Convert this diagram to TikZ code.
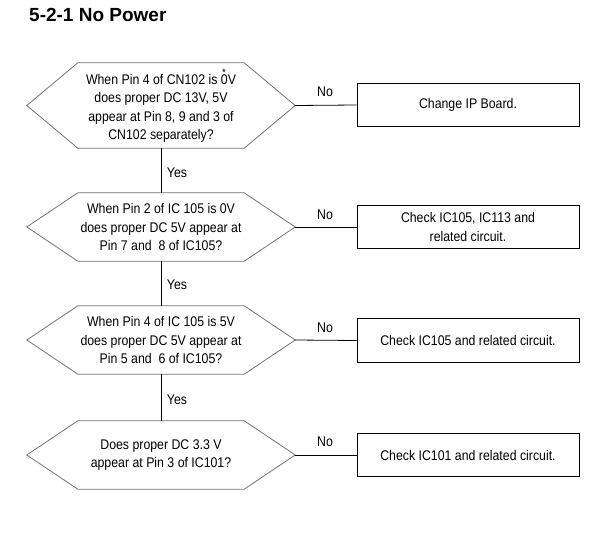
\documentclass[tikz,border=0pt]{standalone}
\usepackage{fontspec}
\setmainfont{Liberation Sans}[FakeStretch=0.88]
\newfontfamily\titlefont{Liberation Sans}[FakeStretch=1.0]
\usetikzlibrary{calc}
\newcommand\astzero{\rlap{\raisebox{8pt}{\kern0.08em\fontsize{11}{11}\selectfont *}}0}
\begin{document}
\begin{tikzpicture}[x=1pt,y=-1pt,
  hexnode/.style={minimum width=268pt, minimum height=#1, inner sep=0pt, align=center,
    font=\fontsize{14}{18.5}\selectfont},
  boxnode/.style={draw, line width=0.8pt, minimum width=222pt, minimum height=43.5pt, inner sep=0pt,
    align=center, font=\fontsize{14}{18.5}\selectfont},
  hexline/.style={draw=black!55, line width=0.8pt},
  conn/.style={draw, line width=0.8pt},
  lbl/.style={font=\fontsize{14}{16}\selectfont, inner sep=0pt}
]
\useasboundingbox (0,0) rectangle (610,548);
\fill[white] (0,0) rectangle (610,548);

\node[anchor=base west, inner sep=0pt, font=\titlefont\bfseries\fontsize{19}{22}\selectfont] (title) at (29,22) {5-2-1 No Power};

% hexagons
\node[hexnode=85pt] (h1) at (161,105.5) {When Pin 4 of CN102 is \astzero V\\does proper DC 13V, 5V\\appear at Pin 8, 9 and 3 of\\CN102 separately?};
\node[hexnode=68pt] (h2) at (161,227) {When Pin 2 of IC 105 is 0V\\does proper DC 5V appear at\\Pin 7 and~ 8 of IC105?};
\node[hexnode=68pt] (h3) at (161,340) {When Pin 4 of IC 105 is 5V\\does proper DC 5V appear at\\Pin 5 and~ 6 of IC105?};
\node[hexnode=68pt] (h4) at (161,455) {Does proper DC 3.3 V\\appear at Pin 3 of IC101?};

\foreach \h in {h1,h2,h3,h4}{
  \draw[hexline] ($(\h.north west)+(51,0)$) -- ($(\h.north east)+(-51,0)$) -- (\h.east)
    -- ($(\h.south east)+(-51,0)$) -- ($(\h.south west)+(51,0)$) -- (\h.west) -- cycle;
}

% boxes
\node[boxnode] (b1) at (468,105) {Change IP Board.};
\node[boxnode] (b2) at (468,227) {Check IC105, IC113 and\\related circuit.};
\node[boxnode] (b3) at (468,340.5) {Check IC105 and related circuit.};
\node[boxnode] (b4) at (468,455) {Check IC101 and related circuit.};

% connectors
\draw[conn] (h1.south) -- (h2.north);
\draw[conn] (h2.south) -- (h3.north);
\draw[conn] (h3.south) -- (h4.north);
\draw[conn] (h1.east) -- (b1.west);
\draw[conn] (h2.east) -- (b2.west);
\draw[conn] (h3.east) -- (b3.west);
\draw[conn] (h4.east) -- (b4.west);

% labels
\node[lbl] (y1) at (177,173) {Yes};
\node[lbl] (y2) at (177,285) {Yes};
\node[lbl] (y3) at (177,400) {Yes};
\node[lbl] (n1) at (325,92) {No};
\node[lbl] (n2) at (325,215) {No};
\node[lbl] (n3) at (325,328) {No};
\node[lbl] (n4) at (325,442) {No};
\end{tikzpicture}
\end{document}
